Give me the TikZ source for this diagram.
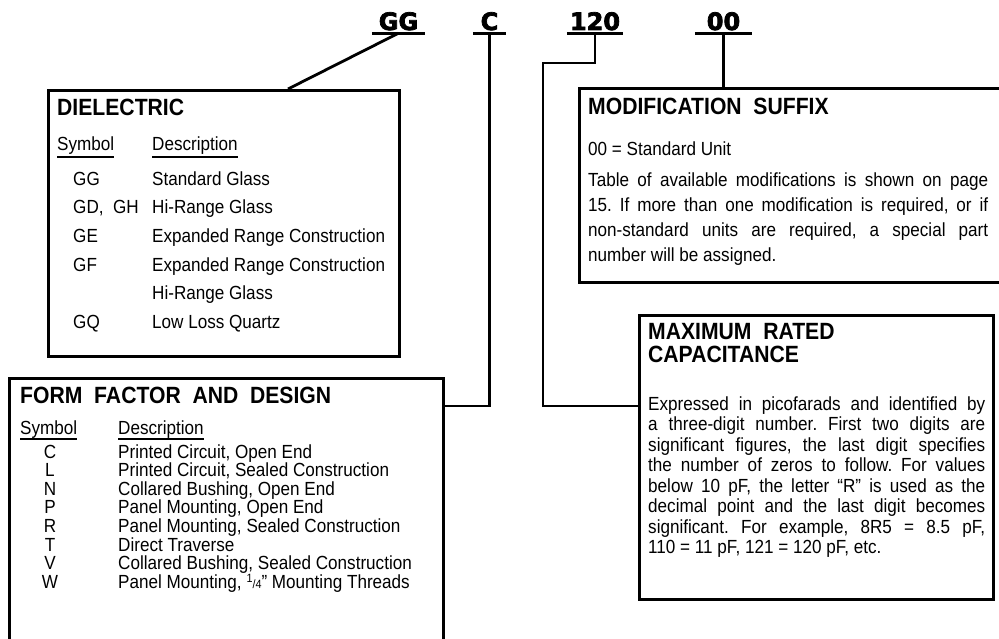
\documentclass[tikz,border=0pt]{standalone}
\usepackage{fontspec}
\setmainfont{Liberation Sans}[FakeStretch=0.9]
\newfontfamily\codefont{DejaVu Sans}[BoldFeatures={FakeBold=3}]
\frenchspacing
\begin{document}
\begin{tikzpicture}[x=1pt,y=-1pt,
  wire/.style={line width=2.8pt},
  rule/.style={line width=1.6pt},
  panel/.style={draw,line width=2.8pt,anchor=north west,inner sep=0pt},
  code/.style={font=\codefont\bfseries\fontsize{24}{24}\selectfont,anchor=base,inner sep=0pt,text depth=3pt},
  head/.style={font=\bfseries\fontsize{23.5}{27}\selectfont,anchor=base west,inner sep=0pt},
  body/.style={font=\fontsize{19}{22}\selectfont,anchor=base west,inner sep=0pt},
  sym/.style={font=\fontsize{19}{22}\selectfont,anchor=base,inner sep=0pt},
  para/.style={font=\fontsize{19}{#1}\selectfont,align=justify,anchor=north west,inner sep=0pt}]
\useasboundingbox (0,0) rectangle (999,639);

\node[code,minimum width=53] (gg) at (398.5,30) {GG};
\node[code,minimum width=33] (cc) at (489.5,30) {C};
\node[code,minimum width=56] (num) at (595,30) {120};
\node[code,minimum width=57] (suf) at (723.5,30) {00};
\draw[wire] (gg.south west) -- (gg.south east);
\draw[wire] (cc.south west) -- (cc.south east);
\draw[wire] (num.south west) -- (num.south east);
\draw[wire] (suf.south west) -- (suf.south east);

\node[panel,minimum width=351,minimum height=266] (diel) at (47,89) {};
\node[panel,minimum width=440,minimum height=194] (mod) at (578,87) {};
\node[panel,minimum width=434,minimum height=290] (form) at (8,377) {};
\node[panel,minimum width=354,minimum height=284] (cap) at (638,314) {};

\coordinate (dtop) at (288,89);
\coordinate (fjoin) at (442,406);
\coordinate (bend) at (543,63);
\coordinate (cjoin) at (638,406);
\draw[wire] (gg.south) -- (dtop);
\draw[wire] (cc.south) |- (fjoin);
\draw[wire] (num.south) |- (bend) |- (cjoin);
\draw[wire] (suf.south) -- (suf.south |- mod.north);

\node[head] (dhead) at (57,116) {DIELECTRIC};
\node[body] (dsym) at (57,151) {Symbol};
\node[body] (ddesc) at (152,151) {Description};
\draw[rule] ([yshift=-2pt]dsym.south west) -- ([yshift=-2pt]dsym.south east);
\draw[rule] ([yshift=-2pt]ddesc.south west) -- ([yshift=-2pt]ddesc.south east);
\node[body] (d1s) at (73,186) {GG};
\node[body] (d1d) at (152,186) {Standard Glass};
\node[body] (d2s) at (73,214) {GD,\ \ GH};
\node[body] (d2d) at (152,214) {Hi-Range Glass};
\node[body] (d3s) at (73,243) {GE};
\node[body] (d3d) at (152,243) {Expanded Range Construction};
\node[body] (d4s) at (73,272) {GF};
\node[body] (d4d) at (152,272) {Expanded Range Construction};
\node[body] (d4e) at (152,299) {Hi-Range Glass};
\node[body] (d5s) at (73,328) {GQ};
\node[body] (d5d) at (152,328) {Low Loss Quartz};

\node[head] (fhead) at (20,403) {FORM\ \ FACTOR\ \ AND\ \ DESIGN};
\node[body] (fsym) at (20,434) {Symbol};
\node[body] (fdesc) at (118,434) {Description};
\draw[rule] ([yshift=-1pt]fsym.south west) -- ([yshift=-1pt]fsym.south east);
\draw[rule] ([yshift=-1pt]fdesc.south west) -- ([yshift=-1pt]fdesc.south east);
\node[sym] (f1s) at (50,458) {C};
\node[body] (f1d) at (118,458) {Printed Circuit, Open End};
\node[sym] (f2s) at (50,476.6) {L};
\node[body] (f2d) at (118,476.6) {Printed Circuit, Sealed Construction};
\node[sym] (f3s) at (50,495.2) {N};
\node[body] (f3d) at (118,495.2) {Collared Bushing, Open End};
\node[sym] (f4s) at (50,513.8) {P};
\node[body] (f4d) at (118,513.8) {Panel Mounting, Open End};
\node[sym] (f5s) at (50,532.4) {R};
\node[body] (f5d) at (118,532.4) {Panel Mounting, Sealed Construction};
\node[sym] (f6s) at (50,551) {T};
\node[body] (f6d) at (118,551) {Direct Traverse};
\node[sym] (f7s) at (50,569.6) {V};
\node[body] (f7d) at (118,569.6) {Collared Bushing, Sealed Construction};
\node[sym] (f8s) at (50,588.2) {W};
\node[body] (f8d) at (118,588.2) {Panel Mounting, {\fontsize{12}{12}\selectfont\raisebox{6pt}{1}/4}” Mounting Threads};

\node[head] (mhead) at (588,115) {MODIFICATION\ \ SUFFIX};
\node[body] (mstd) at (588,156) {00 = Standard Unit};
\node[para=25,text width=400] (mtext) at (588,172.5) {Table of available modifications is shown on page\linebreak
15. If more than one modification is required, or if\linebreak
non-standard units are required, a special part\linebreak
number will be assigned.};

\node[head] (chead) at (648,339) {MAXIMUM\ \ RATED};
\node[head] (chead2) at (648,362) {CAPACITANCE};
\node[para=20.5,text width=337] (ctext) at (648,396.5) {Expressed in picofarads and identified by\linebreak
a three-digit number. First two digits are\linebreak
significant figures, the last digit specifies\linebreak
the number of zeros to follow. For values\linebreak
below 10 pF, the letter “R” is used as the\linebreak
decimal point and the last digit becomes\linebreak
significant. For example, 8R5 = 8.5 pF,\linebreak
110 = 11 pF, 121 = 120 pF, etc.};
\end{tikzpicture}
\end{document}
